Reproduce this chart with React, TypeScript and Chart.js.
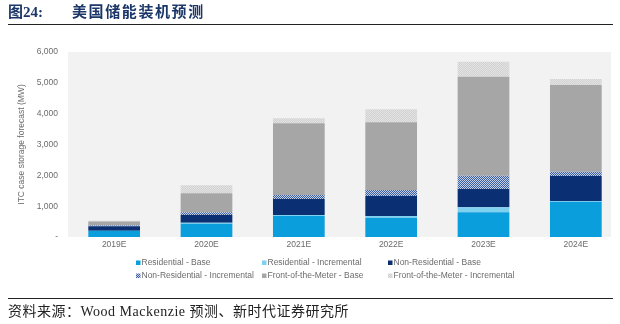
import React, { useEffect, useRef } from "react";
import { Chart, registerables } from "chart.js";

Chart.register(...registerables);

const categories = ["2019E", "2020E", "2021E", "2022E", "2023E", "2024E"];
const residentialBase = [200, 430, 680, 626, 800, 1145];
const residentialIncremental = [0, 35, 30, 55, 163, 20];
const nonResidentialBase = [150, 250, 520, 650, 594, 813];
const nonResidentialIncremental = [20, 85, 130, 194, 432, 140];
const ftmBase = [130, 617, 2326, 2196, 3211, 2812];
const ftmIncremental = [30, 260, 162, 422, 486, 195];
const yTicks = [0, 1000, 2000, 3000, 4000, 5000, 6000];

function makePattern(a: string, b: string): CanvasPattern | string {
  const c = document.createElement("canvas");
  c.width = 2;
  c.height = 2;
  const ctx = c.getContext("2d");
  if (!ctx) return a;
  ctx.fillStyle = a;
  ctx.fillRect(0, 0, 2, 2);
  ctx.fillStyle = b;
  ctx.fillRect(0, 0, 1, 1);
  ctx.fillRect(1, 1, 1, 1);
  const p = ctx.createPattern(c, "repeat");
  return p || a;
}

export default function App() {
  const ref = useRef<HTMLCanvasElement | null>(null);

  useEffect(() => {
    if (!ref.current) return;
    const nrInc = makePattern("#3d5f9e", "#c3cfe6");
    const ftmInc = makePattern("#d2d2d2", "#e2e2e2");

    const bgPlugin = {
      id: "bg",
      beforeDraw(chart: any) {
        const { ctx, chartArea } = chart;
        ctx.save();
        ctx.fillStyle = "#f2f2f2";
        ctx.fillRect(chartArea.left, chartArea.top, chartArea.right - 11 - chartArea.left, chartArea.bottom - chartArea.top);
        ctx.restore();
      },
    };

    const legendPlugin = {
      id: "gridLegend",
      afterDraw(chart: any) {
        const { ctx } = chart;
        const cols = [136, 262, 388];
        const rows = [263, 276];
        ctx.save();
        ctx.font = "8.5px 'Liberation Sans', Arial, sans-serif";
        ctx.textBaseline = "middle";
        ctx.textAlign = "left";
        chart.data.datasets.forEach((ds: any, i: number) => {
          const x = cols[i % 3];
          const y = rows[Math.floor(i / 3)];
          ctx.fillStyle = ds.backgroundColor;
          ctx.fillRect(x, y - 2.5, 4.5, 4.5);
          ctx.fillStyle = "#6b6b6b";
          ctx.fillText(ds.label, x + 5.5, y);
        });
        ctx.restore();
      },
    };

    const chart = new Chart(ref.current, {
      type: "bar",
      data: {
        labels: categories,
        datasets: [
          { label: "Residential - Base", data: residentialBase, backgroundColor: "#0a9fdc" },
          { label: "Residential - Incremental", data: residentialIncremental, backgroundColor: "#80d0f0" },
          { label: "Non-Residential - Base", data: nonResidentialBase, backgroundColor: "#0b2f73" },
          { label: "Non-Residential - Incremental", data: nonResidentialIncremental, backgroundColor: nrInc as any },
          { label: "Front-of-the-Meter - Base", data: ftmBase, backgroundColor: "#a6a6a6" },
          { label: "Front-of-the-Meter - Incremental", data: ftmIncremental, backgroundColor: ftmInc as any },
        ],
      },
      options: {
        animation: false,
        responsive: false,
        maintainAspectRatio: false,
        layout: { padding: { top: 52, right: 8, left: 0, bottom: 0 } },
        datasets: { bar: { barPercentage: 0.56, categoryPercentage: 1, borderWidth: 0 } },
        plugins: { legend: { display: false }, tooltip: { enabled: false } },
        scales: {
          x: {
            stacked: true,
            grid: { display: false, drawTicks: false },
            border: { display: false },
            ticks: { color: "#6b6b6b", font: { family: "'Liberation Sans', Arial, sans-serif", size: 8.5 }, padding: 3 },
            afterFit: (s: any) => { s.height = 87; },
          },
          y: {
            stacked: true,
            min: 0,
            max: 6000,
            grid: { display: false, drawTicks: false },
            border: { display: false },
            afterBuildTicks: (s: any) => { s.ticks = yTicks.map((v) => ({ value: v })); },
            ticks: {
              color: "#6b6b6b",
              font: { family: "'Liberation Sans', Arial, sans-serif", size: 8.5 },
              padding: 10,
              callback: (v: any) => (Number(v) === 0 ? "-" : Number(v).toLocaleString("en-US")),
            },
            title: {
              display: true,
              text: "ITC case storage forecast (MW)",
              color: "#6b6b6b",
              font: { family: "'Liberation Sans', Arial, sans-serif", size: 8.5 },
              padding: { top: 17, bottom: 0 },
            },
            afterFit: (s: any) => { s.width = 68; },
          },
        },
      },
      plugins: [bgPlugin, legendPlugin],
    });
    return () => chart.destroy();
  }, []);

  return (
    <div style={{ position: "fixed", left: 0, top: 0, width: 620, height: 324, overflow: "hidden", background: "#fff" }}>
      <canvas ref={ref} width={630} height={324} style={{ position: "absolute", left: 0, top: 0, width: 630, height: 324 }} />
      <div style={{ position: "absolute", left: 8, top: 3, fontFamily: "'Liberation Serif', 'Noto Sans CJK SC', serif", fontWeight: "bold", fontSize: 15, color: "#1b3668", whiteSpace: "nowrap", lineHeight: "18px" }}>
        <span>图24:</span>
        <span style={{ position: "absolute", left: 64, top: 0, letterSpacing: 1.6 }}>美国储能装机预测</span>
      </div>
      <div style={{ position: "absolute", left: 8, top: 24, width: 605, height: 0, borderTop: "1.5px solid #222" }} />
      <div style={{ position: "absolute", left: 8, top: 298, width: 605, height: 0, borderTop: "1.5px solid #222" }} />
      <div style={{ position: "absolute", left: 8, top: 303, fontFamily: "'Liberation Serif', 'Noto Sans CJK SC', serif", fontSize: 14, letterSpacing: 0.5, color: "#222", whiteSpace: "nowrap", lineHeight: "18px" }}>
        资料来源：Wood Mackenzie 预测、新时代证券研究所
      </div>
    </div>
  );
}
